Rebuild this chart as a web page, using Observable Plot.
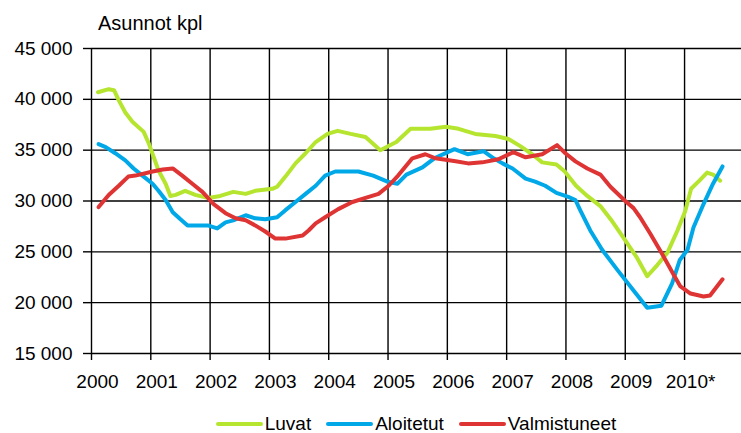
<!DOCTYPE html>
<html>
<head>
<meta charset="utf-8">
<script src="https://cdn.jsdelivr.net/npm/d3@7"></script>
<script src="https://cdn.jsdelivr.net/npm/@observablehq/plot@0.6"></script>
<style>
  html, body { margin: 0; padding: 0; background: #fff; }
  #wrap { position: relative; width: 741px; height: 433px; overflow: hidden; font-family: "Liberation Sans", Arial, sans-serif; }
  #title { position: absolute; left: 98px; top: 13px; font-size: 20px; line-height: 20px; color: #000; }
  #legend { position: absolute; left: 91px; width: 650px; top: 414px; height: 19px; display: flex; justify-content: center; align-items: center; gap: 15px; font-size: 19px; line-height: 19px; color: #000; }
  .item { display: flex; align-items: center; gap: 2px; }
  .swatch { width: 47px; height: 4px; border-radius: 2px; }
</style>
</head>
<body>
<div id="wrap">
  <div id="chart"></div>
  <div id="title">Asunnot kpl</div>
  <div id="legend"></div>
</div>
<script>
// Series names and colours
const seriesNames = ["Luvat", "Aloitetut", "Valmistuneet"];
const seriesColors = ["#b5e52f", "#00a8e8", "#df3434"];

// Axis ticks
const yearTicks = [2000, 2001, 2002, 2003, 2004, 2005, 2006, 2007, 2008, 2009, 2010];
const yearLabels = ["2000", "2001", "2002", "2003", "2004", "2005", "2006", "2007", "2008", "2009", "2010*"];
const valueTicks = [15000, 20000, 25000, 30000, 35000, 40000, 45000];

// Luvat (time in decimal years, value)
const luvatT = [2000.11, 2000.29, 2000.38, 2000.46, 2000.57, 2000.69, 2000.88, 2000.97, 2001.05, 2001.13, 2001.25, 2001.33, 2001.42, 2001.58, 2001.75, 2001.97, 2002.17, 2002.39, 2002.60, 2002.76, 2003.05, 2003.13, 2003.27, 2003.44, 2003.61, 2003.78, 2003.98, 2004.15, 2004.37, 2004.62, 2004.87, 2005.14, 2005.38, 2005.71, 2005.98, 2006.19, 2006.47, 2006.81, 2007.03, 2007.23, 2007.43, 2007.60, 2007.84, 2007.98, 2008.17, 2008.36, 2008.58, 2008.78, 2008.98, 2009.20, 2009.37, 2009.54, 2009.71, 2009.88, 2010.01, 2010.11, 2010.25, 2010.38, 2010.48, 2010.60];
const luvatV = [40700, 41000, 40900, 39900, 38700, 37800, 36800, 35600, 34300, 33000, 31700, 30500, 30600, 31000, 30600, 30300, 30500, 30900, 30700, 31000, 31200, 31400, 32400, 33700, 34700, 35800, 36600, 36900, 36600, 36300, 35000, 35800, 37100, 37100, 37300, 37100, 36600, 36400, 36100, 35400, 34600, 33800, 33600, 32900, 31500, 30500, 29500, 28000, 26300, 24400, 22600, 23700, 24900, 27100, 29000, 31200, 32000, 32800, 32600, 32000];

// Aloitetut
const aloitT = [2000.12, 2000.24, 2000.40, 2000.57, 2000.71, 2000.88, 2001.03, 2001.13, 2001.25, 2001.37, 2001.50, 2001.62, 2001.96, 2002.12, 2002.26, 2002.39, 2002.60, 2002.76, 2002.93, 2003.13, 2003.27, 2003.44, 2003.61, 2003.78, 2003.94, 2004.11, 2004.50, 2004.75, 2004.99, 2005.16, 2005.31, 2005.58, 2005.78, 2006.12, 2006.34, 2006.61, 2006.78, 2006.93, 2007.10, 2007.32, 2007.48, 2007.65, 2007.84, 2008.04, 2008.16, 2008.24, 2008.41, 2008.61, 2008.87, 2009.14, 2009.37, 2009.61, 2009.79, 2009.92, 2010.05, 2010.15, 2010.32, 2010.48, 2010.64];
const aloitV = [35600, 35300, 34700, 34000, 33200, 32400, 31700, 31000, 30100, 28900, 28200, 27600, 27600, 27300, 27900, 28100, 28600, 28300, 28200, 28400, 29100, 29900, 30700, 31500, 32500, 32900, 32900, 32500, 31900, 31700, 32600, 33300, 34200, 35100, 34600, 34900, 34200, 33700, 33200, 32200, 31900, 31500, 30800, 30400, 30100, 29100, 27100, 25200, 23200, 21200, 19500, 19700, 21900, 24200, 25200, 27400, 29700, 31700, 33400];

// Valmistuneet
const valmT = [2000.12, 2000.29, 2000.46, 2000.62, 2000.74, 2001.03, 2001.20, 2001.37, 2001.53, 2001.70, 2001.87, 2002.06, 2002.26, 2002.43, 2002.60, 2002.76, 2002.93, 2003.10, 2003.27, 2003.56, 2003.66, 2003.78, 2003.94, 2004.16, 2004.40, 2004.62, 2004.84, 2005.01, 2005.17, 2005.41, 2005.63, 2005.80, 2006.14, 2006.35, 2006.59, 2006.86, 2007.11, 2007.32, 2007.60, 2007.85, 2007.99, 2008.16, 2008.36, 2008.58, 2008.75, 2009.00, 2009.14, 2009.25, 2009.42, 2009.62, 2009.84, 2009.93, 2010.10, 2010.32, 2010.43, 2010.64];
const valmV = [29400, 30600, 31500, 32400, 32500, 32900, 33100, 33200, 32500, 31700, 30900, 29700, 28800, 28300, 28100, 27600, 27000, 26300, 26300, 26600, 27100, 27800, 28400, 29200, 29900, 30300, 30700, 31500, 32500, 34200, 34600, 34200, 33900, 33700, 33800, 34100, 34800, 34300, 34600, 35500, 34700, 33900, 33200, 32600, 31400, 30000, 29300, 28400, 26800, 24800, 22500, 21600, 20900, 20600, 20700, 22300];

const rows = [];
[[luvatT, luvatV], [aloitT, aloitV], [valmT, valmV]].forEach(([ts, vs], i) => {
  ts.forEach((t, j) => rows.push({series: seriesNames[i], t, v: vs[j]}));
});

const fmtY = d => d3.format(",")(d).replace(/,/g, " ");
const gridStyle = {stroke: "#000", strokeOpacity: 1, strokeWidth: 1.4};

const chart = Plot.plot({
  width: 741,
  height: 400,
  marginLeft: 91,
  marginRight: 0,
  marginTop: 48,
  marginBottom: 47,
  style: {fontFamily: "'Liberation Sans', Arial, sans-serif", fontSize: "19px", color: "#000", background: "#fff"},
  x: {domain: [2000, 2010.96], label: null},
  y: {domain: [15000, 45000], label: null},
  color: {domain: seriesNames, range: seriesColors},
  marks: [
    Plot.gridX(yearTicks, gridStyle),
    Plot.gridY(valueTicks, gridStyle),
    Plot.axisX(yearTicks, {tickSize: 7, text: null, ...gridStyle, label: null}),
    Plot.axisX(yearTicks, {tickSize: 0, tickPadding: 21, dx: 6, tickFormat: (d, i) => yearLabels[yearTicks.indexOf(d)], label: null, fill: "#000"}),
    Plot.axisY(valueTicks, {tickSize: 8, tickPadding: 11, tickFormat: fmtY, label: null, ...gridStyle, fill: "#000"}),
    Plot.line(rows, {x: "t", y: "v", z: "series", stroke: "series", strokeWidth: 4, strokeLinejoin: "round", strokeLinecap: "round"})
  ]
});
document.getElementById("chart").appendChild(chart);

const legend = document.getElementById("legend");
seriesNames.forEach((name, i) => {
  const item = document.createElement("div");
  item.className = "item";
  const sw = document.createElement("span");
  sw.className = "swatch";
  sw.style.background = seriesColors[i];
  const label = document.createElement("span");
  label.textContent = name;
  item.appendChild(sw);
  item.appendChild(label);
  legend.appendChild(item);
});
</script>
</body>
</html>
